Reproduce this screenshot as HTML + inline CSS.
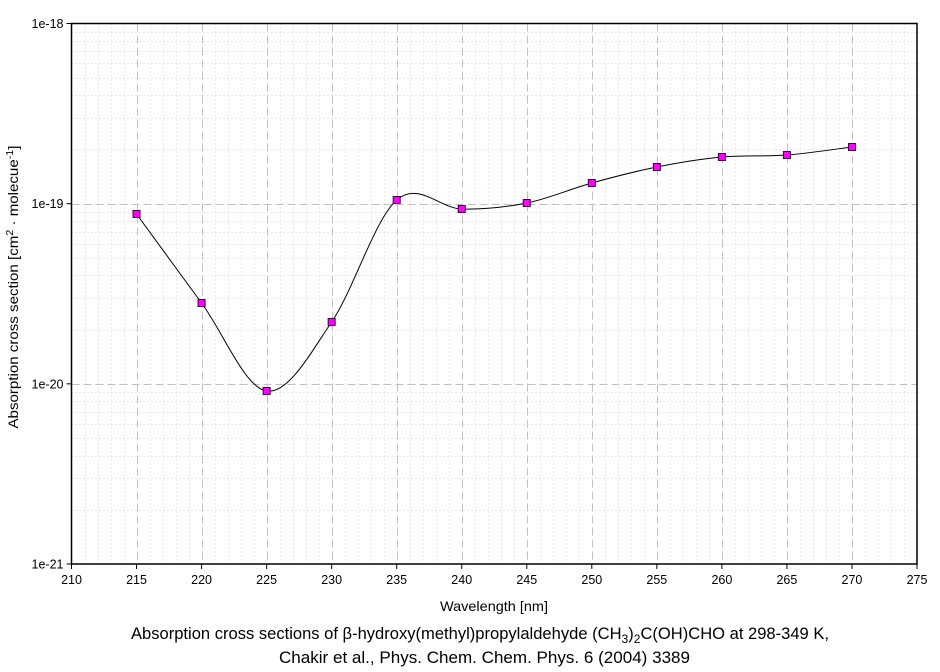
<!DOCTYPE html>
<html><head><style>
body{margin:0;background:#fff;}
svg text{font-family:"Liberation Sans",sans-serif;fill:#000;}
</style></head><body>
<svg id="s" width="940" height="667" xmlns="http://www.w3.org/2000/svg">
<g id="grid"></g>
<rect x="71.5" y="23.5" width="845.5" height="540.5" fill="none" stroke="#000" stroke-width="1.5"/>
<g id="ticks" font-size="12.5"></g>
<path id="curve" fill="none" stroke="#000" stroke-width="1"/>
<g id="marks"></g>
<text x="494" y="611" font-size="14" text-anchor="middle" textLength="108" lengthAdjust="spacingAndGlyphs">Wavelength [nm]</text>
<text transform="translate(18,287) rotate(-90)" font-size="14" text-anchor="middle" textLength="283" lengthAdjust="spacingAndGlyphs">Absorption cross section [cm<tspan dy="-5" font-size="10">2</tspan><tspan dy="5"> · molecue</tspan><tspan dy="-5" font-size="10">-1</tspan><tspan dy="5">]</tspan></text>
<text x="480" y="639" font-size="16.5" text-anchor="middle" textLength="698" lengthAdjust="spacingAndGlyphs">Absorption cross sections of β-hydroxy(methyl)propylaldehyde (CH<tspan dy="4" font-size="12">3</tspan><tspan dy="-4">)</tspan><tspan dy="4" font-size="12">2</tspan><tspan dy="-4">C(OH)CHO at 298-349 K,</tspan></text>
<text x="484.5" y="663" font-size="16.5" text-anchor="middle" textLength="411" lengthAdjust="spacingAndGlyphs">Chakir et al., Phys. Chem. Chem. Phys. 6 (2004) 3389</text>
</svg>
<script>
const NS="http://www.w3.org/2000/svg";
const X0=71.5,X1=917,Y0=23.5,Y1=564;
const xp=w=>X0+(w-210)*(X1-X0)/65;
const dec=(Y1-Y0)/3;
const g=document.getElementById('grid'),t=document.getElementById('ticks');
function el(p,tag,a,txt){const e=document.createElementNS(NS,tag);for(const k in a)e.setAttribute(k,a[k]);if(txt)e.textContent=txt;p.appendChild(e);return e;}
for(let w=211;w<275;w++){const x=Math.round(xp(w))+0.5;
 if(w%5==0) el(g,'line',{x1:x,x2:x,y1:Y0,y2:Y1,stroke:'#c0c0c0','stroke-dasharray':'8,4'});
 else el(g,'line',{x1:x,x2:x,y1:Y0,y2:Y1,stroke:'#d0d0d0','stroke-dasharray':'1,3'});}
for(let d=0;d<3;d++){for(let m=2;m<=9;m++){const y=Math.round(Y1-dec*(d+Math.log10(m)))+0.5;
 el(g,'line',{x1:X0,x2:X1,y1:y,y2:y,stroke:'#d0d0d0','stroke-dasharray':'1,3'});}
 if(d>0){const y=Math.round(Y1-dec*d)+0.5;el(g,'line',{x1:X0,x2:X1,y1:y,y2:y,stroke:'#c0c0c0','stroke-dasharray':'8,4'});}}
for(let w=210;w<=275;w+=5){const x=xp(w);el(t,'line',{x1:x,x2:x,y1:Y1,y2:Y1+5,stroke:'#000'});el(t,'text',{x:x,y:Y1+20,'text-anchor':'middle'},String(w));}
['1e-21','1e-20','1e-19','1e-18'].forEach((l,i)=>{const y=Y1-dec*i;el(t,'line',{x1:X0-5,x2:X0,y1:y,y2:y,stroke:'#000'});el(t,'text',{x:X0-8,y:y+4.5,'text-anchor':'end'},l);});
const pts=[[215,214],[220,303],[225,391],[230,322],[235,200],[240,209],[245,203],[250,183],[255,167],[260,157],[265,155],[270,147]].map(p=>[xp(p[0]),p[1]]);
let d='M'+pts[0][0]+','+pts[0][1];
for(let i=0;i<pts.length-1;i++){const p0=pts[Math.max(0,i-1)],p1=pts[i],p2=pts[i+1],p3=pts[Math.min(pts.length-1,i+2)];
 const c1=[p1[0]+(p2[0]-p0[0])/6,p1[1]+(p2[1]-p0[1])/6],c2=[p2[0]-(p3[0]-p1[0])/6,p2[1]-(p3[1]-p1[1])/6];
 d+=` C${c1[0]},${c1[1]} ${c2[0]},${c2[1]} ${p2[0]},${p2[1]}`;}
document.getElementById('curve').setAttribute('d',d);
const mk=document.getElementById('marks');
pts.forEach(p=>el(mk,'rect',{x:p[0]-3.5,y:p[1]-3.5,width:7,height:7,fill:'#ff00ff',stroke:'#400040','stroke-width':1}));
</script>
</body></html>
